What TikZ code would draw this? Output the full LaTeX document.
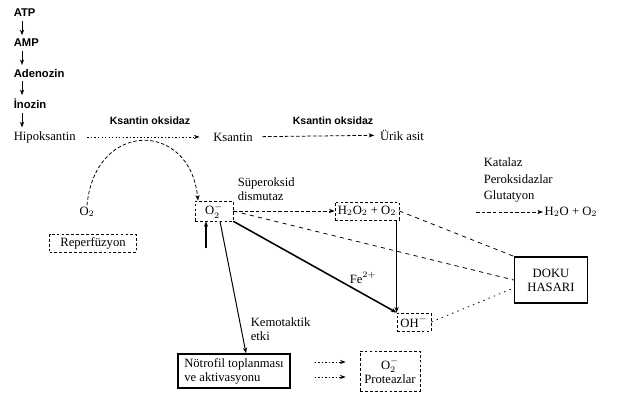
\documentclass[tikz,border=0pt]{standalone}
\usepackage{fontspec}
\setmainfont{Liberation Serif}
\newfontfamily\headfont{Liberation Sans}
\usetikzlibrary{calc,arrows.meta,positioning}

\begin{document}
\begin{tikzpicture}[x=0.25mm,y=-0.25mm,line width=0.55pt,
      every node/.style={font=\fontsize{9}{10}\selectfont,inner sep=1pt},
      met/.style={font=\headfont\bfseries\fontsize{8}{10}\selectfont,anchor=west},
      enz/.style={font=\headfont\bfseries\fontsize{7.5}{9}\selectfont},
      dbox/.style={draw,dash pattern=on 2pt off 1.5pt,minimum height=4.5mm,inner sep=2pt},
      sbox/.style={draw,line width=1pt,align=center,inner sep=3pt},
      dasharr/.style={->,dash pattern=on 2.5pt off 1.5pt},
      dotarr/.style={->,dash pattern=on 1pt off 1.5pt},
      >={Stealth[length=4pt]}]
  \useasboundingbox (0,0) rectangle (617,403);
  % purine breakdown
  \node[met] (atp) at (12,13) {ATP};
  \node[met] (amp) at (12,43) {AMP};
  \node[met] (ado) at (12,73) {Adenozin};
  \node[met] (ino) at (12,104) {İnozin};
  \node[anchor=west] (hipo) at (12,137) {Hipoksantin};
  \foreach \a/\b in {atp/amp,amp/ado,ado/ino,ino/hipo}
    \draw[->,shorten <=1.5pt,shorten >=1.5pt] ($(\a.south west)+(10,0)$) -- ($(\b.north west)+(10,0)$);
  \node (ks) at (233,137) {Ksantin};
  \node (urik) at (402,135) {Ürik asit};
  \node[enz] (ko1) at (150,121) {Ksantin oksidaz};
  \node[enz] (ko2) at (333,121) {Ksantin oksidaz};
  \draw[dotarr,shorten <=2.5mm,shorten >=3mm] (hipo) -- (ks);
  \draw[dasharr,shorten <=2mm,shorten >=1mm] (ks) -- (urik);
  % radicals
  \node (o2) at (87,212) {O$_2$};
  \node[dbox,minimum width=9.5mm] (sup) at (214,211) {O$_2^{-}$};
  \node[align=left,anchor=west] (sod) at (236,189) {Süperoksid\\dismutaz};
  \node[dbox,minimum width=14mm] (hp) at (367,211) {H$_2$O$_2$ + O$_2$};
  \node[align=left,anchor=west,font=\fontsize{9}{12}\selectfont] (kat) at (482,180) {Katalaz\\Peroksidazlar\\Glutatyon};
  \node (su) at (571,212) {H$_2$O + O$_2$};
  \coordinate (kst) at (476,212);
  \node[dbox,minimum width=21.75mm] (rep) at (93,243) {Reperfüzyon};
  \coordinate (rp) at (206,248);
  \node[dbox,minimum width=8.5mm] (oh) at (414,322) {OH$^{-}$};
  \node (fe) at (363,278) {Fe$^{2+}$};
  \node[sbox,minimum width=18.25mm,minimum height=11.5mm] (doku) at (551,280) {DOKU\\HASARI};
  % neutrophils
  \node[align=left,anchor=west] (kem) at (249,329) {Kemotaktik\\etki};
  \node[sbox,align=left,minimum width=28mm,minimum height=7.5mm] (notr) at (234,371) {Nötrofil toplanması\\ve aktivasyonu};
  \node[dbox,align=center,minimum width=15mm,minimum height=10mm] (prot) at (390,371) {O$_2^{-}$\\Proteazlar};
  \draw[dasharr] (o2.north) .. controls (95,120) and (190,120) .. ($(sup.north)+(-16,0)$);
  \draw[dasharr] (sup) -- (hp);
  \draw[dasharr] (kst) -- (su);
  \draw[->,line width=0.8pt] (rp) -- (rp |- sup.south);
  \draw[->,line width=1.1pt] (sup.south east) -- (oh.north west);
  \draw[->,line width=0.8pt] (oh.north west |- hp.south) -- (oh.north west);
  \draw[->,line width=0.7pt] ($(sup.south)+(6,0)$) -- ($(notr.north)+(12,0)$);
  \draw[dash pattern=on 3pt off 3pt] (sup.east) -- (doku.west);
  \draw[dash pattern=on 3pt off 3pt] (hp.east) -- (doku.north west);
  \draw[dash pattern=on 1pt off 3pt] (oh.east) -- ($(doku.west)+(0,8)$);
  \draw[dotarr,shorten <=6mm,shorten >=3.5mm] ([yshift=2.25mm]notr.east) -- ([yshift=2.25mm]prot.west);
  \draw[dotarr,shorten <=6mm,shorten >=3.5mm] ([yshift=-1.5mm]notr.east) -- ([yshift=-1.5mm]prot.west);
\end{tikzpicture}
\end{document}
